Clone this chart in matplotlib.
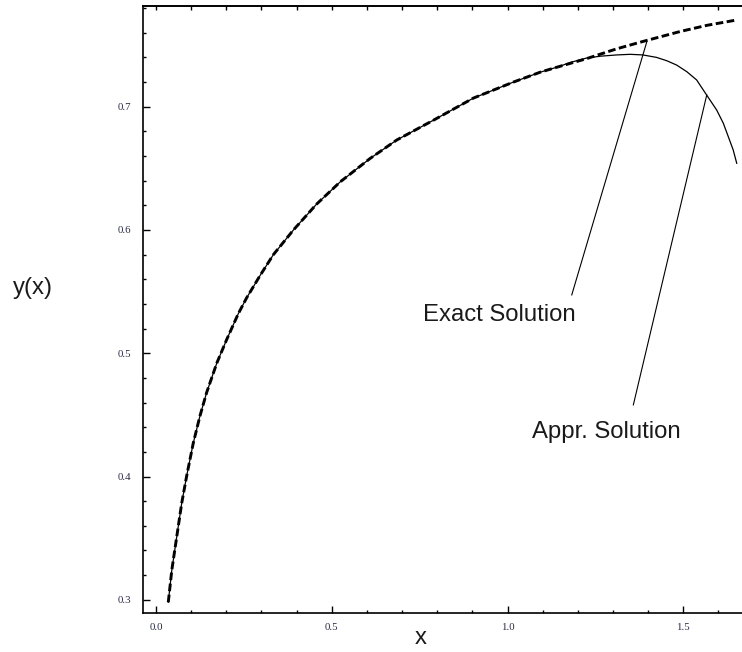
import matplotlib
matplotlib.use("Agg")
import matplotlib.pyplot as plt
import numpy as np

# ---- data ----
x_exact = [0.035, 0.045, 0.059, 0.073, 0.087, 0.106, 0.125, 0.144, 0.173, 0.201,
           0.234, 0.258, 0.296, 0.334, 0.391, 0.457, 0.524, 0.609, 0.685, 0.789,
           0.903, 1.017, 1.093, 1.140, 1.225, 1.311, 1.386, 1.491, 1.567, 1.645]
y_exact = [0.298, 0.324, 0.351, 0.378, 0.400, 0.427, 0.449, 0.468, 0.492, 0.511,
           0.532, 0.545, 0.563, 0.580, 0.600, 0.621, 0.639, 0.658, 0.673, 0.689,
           0.707, 0.720, 0.728, 0.732, 0.739, 0.747, 0.753, 0.761, 0.766, 0.770]

x_appr = [0.035, 0.045, 0.059, 0.073, 0.087, 0.106, 0.125, 0.144, 0.173, 0.201,
          0.234, 0.258, 0.296, 0.334, 0.391, 0.457, 0.524, 0.609, 0.685, 0.789,
          0.903, 1.017, 1.093, 1.140, 1.180, 1.225, 1.265, 1.311, 1.349, 1.385,
          1.424, 1.453, 1.481, 1.510, 1.538, 1.557, 1.576, 1.595, 1.614, 1.628,
          1.642, 1.652]
y_appr = [0.298, 0.324, 0.351, 0.378, 0.400, 0.427, 0.449, 0.468, 0.492, 0.511,
          0.532, 0.545, 0.563, 0.580, 0.600, 0.621, 0.639, 0.658, 0.673, 0.689,
          0.707, 0.720, 0.728, 0.732, 0.736, 0.7395, 0.741, 0.742, 0.7425, 0.742,
          0.740, 0.7373, 0.7338, 0.7284, 0.7217, 0.7135, 0.7054, 0.6973, 0.6865, 0.6757,
          0.6649, 0.6541]

x_major = [0.0, 0.5, 1.0, 1.5]
x_major_labels = ["0.0", "0.5", "1.0", "1.5"]
y_major = [0.3, 0.4, 0.5, 0.6, 0.7]
y_major_labels = ["0.3", "0.4", "0.5", "0.6", "0.7"]

labels = ["Exact Solution", "Appr. Solution"]
# ---------------------------------------

plt.rcParams['lines.scale_dashes'] = False
fig = plt.figure(figsize=(7.42, 6.52), dpi=100)
ax = fig.add_axes([0.1923, 0.0593, 0.8077, 0.9315])

ax.plot(x_appr, y_appr, color='black', lw=0.9, solid_joinstyle='round')
ax.plot(x_exact, y_exact, color='black', lw=2.1, dashes=(5.5, 2.5))

ax.set_xlim(-0.0378, 1.667)
ax.set_ylim(0.289, 0.7817)

ax.set_xticks(x_major)
ax.set_xticklabels(x_major_labels)
ax.set_xticks(np.arange(0.0, 1.66, 0.1), minor=True)
ax.set_yticks(y_major)
ax.set_yticklabels(y_major_labels)
ax.set_yticks(np.arange(0.30, 0.781, 0.02), minor=True)

for lab in ax.get_xticklabels() + ax.get_yticklabels():
    lab.set_fontfamily('Liberation Serif')
    lab.set_fontsize(7.8)
    lab.set_color('#2a2a44')

ax.tick_params(which='major', direction='in', length=5, width=1.0, color='black')
ax.tick_params(which='minor', direction='in', length=2.5, width=1.0, color='black')
ax.tick_params(axis='x', which='major', pad=7)
ax.tick_params(axis='y', which='major', pad=8)
ax.tick_params(right=False, top=False)

sec = ax.secondary_xaxis('top')
sec.set_xticks(np.arange(0.0, 1.66, 0.1))
sec.tick_params(direction='in', length=3, width=1.0, labeltop=False)
sec.spines['top'].set_linewidth(1.2)

ax.spines['right'].set_visible(False)
for s in ['left', 'bottom', 'top']:
    ax.spines[s].set_linewidth(1.2)

# annotation leader lines
ax.plot([1.396, 1.1827], [0.7525, 0.5473], color='black', lw=0.8)
ax.plot([1.5667, 1.3579], [0.7095, 0.4581], color='black', lw=0.8)

txt = dict(family='Liberation Sans', size=17.2, color='#1a1a1a', ha='center', va='center')
ax.text(0.976, 0.531, labels[0], **txt)
ax.text(1.282, 0.4364, labels[1], **txt)

fig.text(33/742, 1 - 288/652, "y(x)", **txt)
fig.text(421/742, 1 - 638/652, "x", **txt)

fig.savefig("out.png", dpi=100)
